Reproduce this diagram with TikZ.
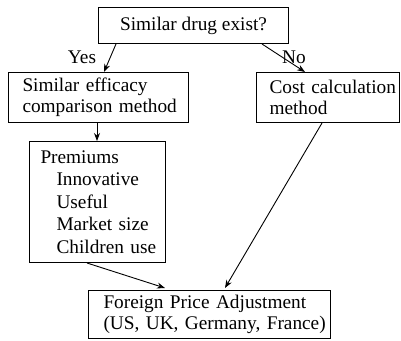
\documentclass[tikz,border=0pt]{standalone}
\usepackage{fontspec}
\setmainfont{Liberation Serif}
\usetikzlibrary{arrows.meta,calc}
\newcommand{\ind}[1]{\hspace*{#1pt}}
\begin{document}
\begin{tikzpicture}[x=1pt,y=-1pt,
  box/.style={draw,line width=1pt,anchor=north west,inner xsep=0pt,inner ysep=0pt,font=\fontsize{19.3}{20.5}\selectfont},
  arr/.style={line width=0.9pt,-{Stealth[length=8pt,width=6pt]}},
  lab/.style={font=\fontsize{19.3}{20.5}\selectfont,inner sep=0pt}]
\useasboundingbox (0,0) rectangle (401,340);
\node[box,minimum width=190pt,minimum height=36pt] (b1) at (98,7) {Similar drug exist?};
\node[box,minimum width=180pt,minimum height=50pt,align=left,text width=180pt] (b2) at (8,72) {\ind{14}Similar efficacy\\\ind{14}comparison method};
\node[box,minimum width=143pt,minimum height=50pt,align=left,text width=143pt] (b3) at (256,72) {\ind{13}Cost calculation\\\ind{13}method};
\node[box,minimum width=136pt,minimum height=121pt,align=left,text width=136pt,font=\fontsize{19.3}{22.5}\selectfont] (b4) at (29,141) {\ind{11}Premiums\\\ind{27}Innovative\\\ind{27}Useful\\\ind{27}Market size\\\ind{27}Children use};
\node[box,minimum width=242pt,minimum height=48pt,align=left,text width=242pt] (b5) at (88,290) {\ind{15}Foreign Price Adjustment\\\ind{15}(US, UK, Germany, France)};
\draw[arr] ($(b1.south west)+(18,0)$) -- ($(b2.north west)+(96,0)$);
\draw[arr] ($(b1.south west)+(164,0)$) -- ($(b3.north west)+(49,0)$);
\draw[arr] ($(b2.south west)+(89,0)$) -- ($(b4.north west)+(68,0)$);
\draw[arr] ($(b4.south west)+(58,0)$) -- ($(b5.north west)+(77,-2)$);
\draw[arr] ($(b3.south west)+(66,0)$) -- ($(b5.north west)+(137,-2)$);
\node[lab] (yes) at (82,57) {Yes};
\node[lab] (no) at (294,57) {No};
\end{tikzpicture}
\end{document}
